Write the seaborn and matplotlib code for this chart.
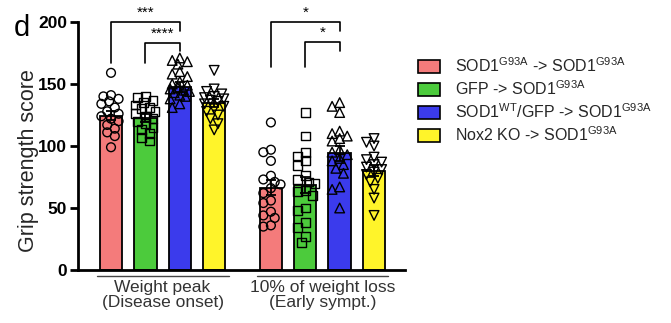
import numpy as np
import pandas as pd
import matplotlib
matplotlib.use("Agg")
import matplotlib.pyplot as plt
import matplotlib.transforms as mtrans
from matplotlib.patches import Patch
import seaborn as sns

# ---------------- data ----------------
conditions = ["SOD1G93A->SOD1G93A", "GFP->SOD1G93A", "SOD1WT/GFP->SOD1G93A", "Nox2KO->SOD1G93A"]
legend_labels = [r"SOD1$^{\mathregular{G93A}}$ -> SOD1$^{\mathregular{G93A}}$",
                 r"GFP -> SOD1$^{\mathregular{G93A}}$",
                 r"SOD1$^{\mathregular{WT}}$/GFP -> SOD1$^{\mathregular{G93A}}$",
                 r"Nox2 KO -> SOD1$^{\mathregular{G93A}}$"]
timepoints = ["Weight peak\n(Disease onset)", "10% of weight loss\n(Early sympt.)"]
colors = ["#F47B7B", "#4CCB3C", "#3B3BEC", "#FFF42A"]
markers = ["o", "s", "^", "v"]

means_peak = [124.5, 122.5, 147.5, 134.5]
sem_peak = [3.5, 3.0, 4.0, 3.2]
means_early = [66.5, 68.5, 94.0, 80.0]
sem_early = [6.0, 6.5, 6.0, 4.5]

pts_peak = [
    [159, 141, 140, 138, 136, 134, 131, 128, 126, 124, 122, 120, 117, 114, 111, 108, 99],
    [140, 139, 137, 135, 133, 131, 130, 128, 126, 124, 122, 120, 118, 115, 113, 110, 107, 104],
    [171, 169, 168, 166, 160, 158, 156, 152, 150, 149, 147, 146, 145, 144, 143, 141, 140, 138, 134, 131],
    [161, 146, 144, 142, 140, 139, 138, 137, 136, 134, 132, 130, 128, 125, 122, 118, 113],
]
pts_early = [
    [119, 97, 95, 88, 76, 73, 71, 69, 66, 62, 56, 54, 47, 44, 42, 36, 35],
    [127, 108, 95, 92, 88, 84, 76, 73, 71, 70, 64, 63, 60, 50, 48, 38, 34, 27, 22],
    [135, 132, 127, 112, 110, 108, 106, 104, 97, 95, 93, 90, 88, 85, 82, 78, 67, 65, 50],
    [106, 103, 100, 91, 89, 87, 85, 83, 81, 79, 77, 74, 71, 65, 58, 44],
]
yticks = [0, 50, 100, 150, 200]

# significance: (cond a, cond b, timepoint, label, top, left leg end, right leg end)
sig = [
    (0, 2, 0, "***", 200, 167, 193),
    (1, 2, 0, "****", 183, 167, 177),
    (0, 2, 1, "*", 200, 164, 193),
    (1, 2, 1, "*", 184, 164, 177),
]

# ---------------- layout ----------------
group_offset = [0.0, 4.65]
bar_width = 0.65
px_x = 34.4   # pixels per x unit
px_y = 1.24   # pixels per y unit


def swarm_offsets(vals, min_px=7.0):
    cands = [0, -0.11, 0.11, -0.22, 0.22, -0.055, 0.055, -0.165, 0.165, -0.28, 0.28]
    placed = []
    offs = np.zeros(len(vals))
    order = np.argsort(vals)[::-1]
    for i in order:
        v = vals[i]
        best, best_d = 0, -1
        for cnd in cands:
            d = min([np.hypot((cnd - o) * px_x, (v - pv) * px_y) for o, pv in placed] or [99])
            if d >= min_px:
                best = cnd
                break
            if d > best_d:
                best, best_d = cnd, d
        offs[i] = best
        placed.append((best, v))
    return offs


rows = []
for t, (mlist, slist) in enumerate([(means_peak, sem_peak), (means_early, sem_early)]):
    for c in range(4):
        rows.append(dict(pos=group_offset[t] + c, cond=conditions[c], mean=mlist[c], sem=slist[c]))
bars = pd.DataFrame(rows)

prow = []
for t, plist in enumerate([pts_peak, pts_early]):
    for c in range(4):
        vals = np.array(plist[c], dtype=float)
        offs = swarm_offsets(vals)
        for v, o in zip(vals, offs):
            prow.append(dict(x=group_offset[t] + c + o, cond=conditions[c], score=v))
pts = pd.DataFrame(prow)

sns.set_theme(style="ticks")
plt.rcParams["font.family"] = ["Liberation Sans", "DejaVu Sans"]
plt.rcParams["mathtext.default"] = "regular"

fig = plt.figure(figsize=(6.71, 3.23), dpi=100)
ax = fig.add_axes([78 / 671, 1 - 270 / 323, 327 / 671, 248 / 323])

sns.barplot(data=bars, x="pos", y="mean", hue="cond", hue_order=conditions,
            palette=colors, saturation=1, native_scale=True, width=bar_width, dodge=False,
            edgecolor="black", linewidth=1.3, errorbar=None, legend=False, ax=ax)

for c in range(4):
    sub = pts[pts["cond"] == conditions[c]]
    n0 = len(ax.collections)
    sns.scatterplot(data=sub, x="x", y="score", marker=markers[c],
                    s=40 if c < 2 else 48, ax=ax, zorder=3, legend=False)
    for coll in ax.collections[n0:]:
        coll.set_facecolor("none")
        coll.set_edgecolor("black")
        coll.set_linewidth(1.0)

ax.errorbar(bars["pos"], bars["mean"], yerr=bars["sem"], fmt="none", ecolor="black",
            elinewidth=1.3, capsize=3.5, capthick=1.3, zorder=4)

for c1, c2, t, lab, top, l1, l2 in sig:
    x1 = group_offset[t] + c1
    x2 = group_offset[t] + c2
    ax.plot([x1, x1, x2, x2], [l1, top, top, l2], color="black", lw=1.2,
            clip_on=False, zorder=5)
    ax.text((x1 + x2) / 2, top + 2, lab, ha="center", va="bottom", fontsize=11,
            color="black", clip_on=False)

ax.set_xlim(-0.96, 8.55)
ax.set_ylim(0, 200)
ax.set_yticks(yticks)
ax.set_yticklabels([str(v) for v in yticks], fontweight="bold", fontsize=12.5)
ax.set_xticks([])
ax.set_xlabel("")
ax.set_ylabel("Grip strength score", fontsize=15.5)
ax.yaxis.set_label_coords(-0.118, 0.44)
sns.despine(ax=ax)
for s in ["left", "bottom"]:
    ax.spines[s].set_linewidth(2)
    ax.spines[s].set_color("black")
ax.tick_params(axis="y", width=2, length=6, color="black", pad=2, labelcolor="black")

trans = mtrans.blended_transform_factory(ax.transData, ax.transAxes)
for t in range(2):
    xl = group_offset[t] - 0.41
    xr = group_offset[t] + 3.42
    ax.plot([xl, xr], [-0.026, -0.026], color="#444444", lw=1.0, transform=trans,
            clip_on=False)
    ax.text(group_offset[t] + 1.5, -0.04, timepoints[t], transform=trans,
            ha="center", va="top", fontsize=12.5, color="#333333", linespacing=1.0)

fig.text(14 / 671, 1 - 14 / 323, "d", fontsize=21, va="top", ha="left", color="black")

handles = [Patch(facecolor=colors[c], edgecolor="black", linewidth=1.2) for c in range(4)]
fig.legend(handles, legend_labels, loc="upper left", bbox_to_anchor=(418 / 671, 1 - 56 / 323),
           frameon=False, fontsize=11.5, handlelength=1.4, handleheight=0.9,
           handletextpad=0.9, labelspacing=0.28, borderaxespad=0, borderpad=0)

fig.savefig("out.png", dpi=100)
